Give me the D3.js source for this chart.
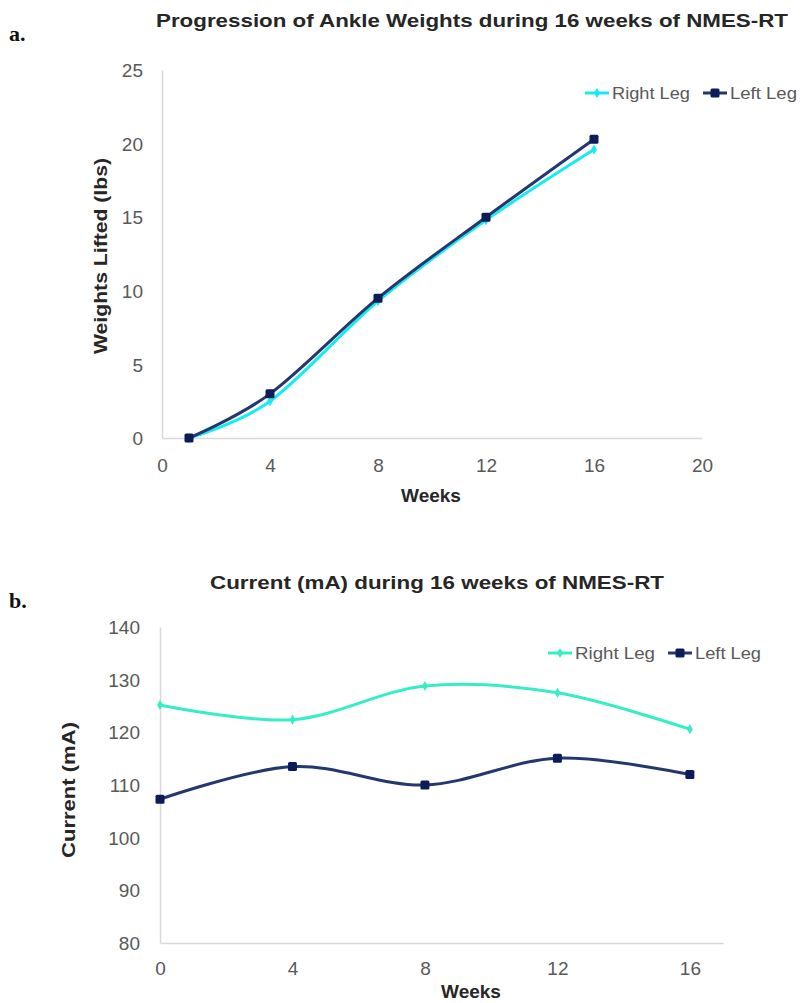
<!DOCTYPE html>
<html>
<head>
<meta charset="utf-8">
<script src="https://cdn.jsdelivr.net/npm/d3@7"></script>
<style>
  body { margin: 0; background: #fff; }
  svg { display: block; font-family: "Liberation Sans", Arial, sans-serif; }
  .tick text { fill: #595959; font-size: 19px; }
  .domain { stroke: #d9d9d9; stroke-width: 1.5; }
</style>
</head>
<body>
<svg width="800" height="1003"></svg>
<script>
// panel a - ankle weights (lbs)
const weeksA = [1, 4, 8, 12, 16];
const rightLegA = [0, 2.5, 9.3, 14.8, 19.6];
const leftLegA = [0, 3.0, 9.5, 15.0, 20.3];
const yTicksA = [0, 5, 10, 15, 20, 25];
const xTicksA = [0, 4, 8, 12, 16, 20];

// panel b - current (mA)
const weeksB = [0, 4, 8, 12, 16];
const rightLegB = [125.2, 122.4, 128.8, 127.5, 120.6];
const leftLegB = [107.3, 113.5, 110.0, 115.1, 112.0];
const yTicksB = [80, 90, 100, 110, 120, 130, 140];
const xTicksB = [0, 4, 8, 12, 16];

const seriesNames = ["Right Leg", "Left Leg"];

const svg = d3.select("svg");
const navyLine = "#25376f", navyMark = "#0b1c58";

const drawPanel = (cfg) => {
  const x = d3.scaleLinear().domain(cfg.xDomain).range([cfg.left, cfg.right]);
  const y = d3.scaleLinear().domain(cfg.yDomain).range([cfg.bottom, cfg.top]);
  const g = svg.append("g");

  // axes
  g.append("g")
    .attr("transform", `translate(0,${cfg.bottom})`)
    .call(d3.axisBottom(x).tickValues(cfg.xTicks).tickSize(0).tickPadding(cfg.xPad))
    .call(a => a.selectAll(".tick line").remove());
  g.append("g")
    .attr("transform", `translate(${cfg.left},0)`)
    .call(d3.axisLeft(y).tickValues(cfg.yTicks).tickSize(0).tickPadding(cfg.yPad))
    .call(a => a.selectAll(".tick text").attr("dy", "0.35em"));

  const line = d3.line()
    .x(d => x(d[0]))
    .y(d => y(d[1]))
    .curve(d3.curveCardinal.tension(0));

  const right = cfg.weeks.map((w, i) => [w, cfg.rightVals[i]]);
  const left = cfg.weeks.map((w, i) => [w, cfg.leftVals[i]]);

  g.append("path").datum(right)
    .attr("d", line).attr("fill", "none")
    .attr("stroke", cfg.rightColor).attr("stroke-width", 3);
  g.append("path").datum(left)
    .attr("d", line).attr("fill", "none")
    .attr("stroke", navyLine).attr("stroke-width", 3);

  const diamond = d3.symbol().type(d3.symbolDiamond).size(30);
  g.selectAll(".rmark").data(right).enter()
    .append("path").attr("class", "rmark")
    .attr("d", diamond)
    .attr("transform", d => `translate(${x(d[0])},${y(d[1])})`)
    .attr("fill", cfg.rightColor);
  g.selectAll(".lmark").data(left).enter()
    .append("rect").attr("class", "lmark")
    .attr("x", d => x(d[0]) - 4.5).attr("y", d => y(d[1]) - 4.5)
    .attr("width", 9).attr("height", 9).attr("rx", 1.5)
    .attr("fill", navyMark);

  // legend
  const leg = g.append("g").attr("transform", `translate(0,${cfg.legY})`);
  cfg.legX.forEach((lx, i) => {
    const col = i == 0 ? cfg.rightColor : navyLine;
    leg.append("line")
      .attr("x1", lx).attr("x2", lx + 24).attr("y1", 0).attr("y2", 0)
      .attr("stroke", col).attr("stroke-width", 3);
    if (i == 0) {
      leg.append("path").attr("d", diamond)
        .attr("transform", `translate(${lx + 12},0)`).attr("fill", col);
    } else {
      leg.append("rect").attr("x", lx + 7.5).attr("y", -4.5)
        .attr("width", 9).attr("height", 9).attr("rx", 1.5).attr("fill", navyMark);
    }
    leg.append("text")
      .attr("x", lx + 27).attr("y", 0).attr("dy", "0.35em")
      .attr("font-size", 17).attr("fill", "#595959")
      .attr("textLength", cfg.legW[i]).attr("lengthAdjust", "spacingAndGlyphs")
      .text(seriesNames[i]);
  });

  // titles and labels
  g.append("text")
    .attr("x", 9).attr("y", cfg.tagY)
    .attr("font-family", "Liberation Serif, serif").attr("font-weight", "bold")
    .attr("font-size", 22).attr("fill", "#111")
    .text(cfg.tag);
  g.append("text")
    .attr("x", cfg.titleX).attr("y", cfg.titleY)
    .attr("text-anchor", "middle").attr("font-weight", "bold")
    .attr("font-size", 19).attr("fill", "#262626")
    .attr("textLength", cfg.titleW).attr("lengthAdjust", "spacingAndGlyphs")
    .text(cfg.title);
  g.append("text")
    .attr("x", cfg.xLabX).attr("y", cfg.xLabY)
    .attr("text-anchor", "middle").attr("font-weight", "bold")
    .attr("font-size", 19).attr("fill", "#262626")
    .text("Weeks");
  g.append("text")
    .attr("transform", `translate(${cfg.yLabX},${cfg.yLabY}) rotate(-90)`)
    .attr("text-anchor", "middle").attr("font-weight", "bold")
    .attr("font-size", 19).attr("fill", "#262626")
    .attr("textLength", cfg.yLabW).attr("lengthAdjust", "spacingAndGlyphs")
    .text(cfg.yLabel);
};

drawPanel({
  tag: "a.", tagY: 41,
  title: "Progression of Ankle Weights during 16 weeks of NMES-RT",
  titleX: 472, titleY: 27, titleW: 632,
  yLabel: "Weights Lifted (lbs)", yLabX: 107, yLabY: 256, yLabW: 196,
  xLabX: 431, xLabY: 502,
  xDomain: [0, 20], yDomain: [0, 25],
  left: 162, right: 702, top: 70, bottom: 438,
  xTicks: xTicksA, yTicks: yTicksA, xPad: 21, yPad: 19,
  weeks: weeksA, rightVals: rightLegA, leftVals: leftLegA,
  rightColor: "#14ecf2",
  legY: 93, legX: [585, 703], legW: [78, 67]
});

drawPanel({
  tag: "b.", tagY: 608,
  title: "Current (mA) during 16 weeks of NMES-RT",
  titleX: 437, titleY: 589, titleW: 454,
  yLabel: "Current (mA)", yLabX: 75, yLabY: 790, yLabW: 136,
  xLabX: 471, xLabY: 998,
  xDomain: [0, 17], yDomain: [80, 140],
  left: 160, right: 723, top: 627, bottom: 943,
  xTicks: xTicksB, yTicks: yTicksB, xPad: 19, yPad: 20,
  weeks: weeksB, rightVals: rightLegB, leftVals: leftLegB,
  rightColor: "#36eec6",
  legY: 653, legX: [548, 668], legW: [80, 66]
});
</script>
</body>
</html>
